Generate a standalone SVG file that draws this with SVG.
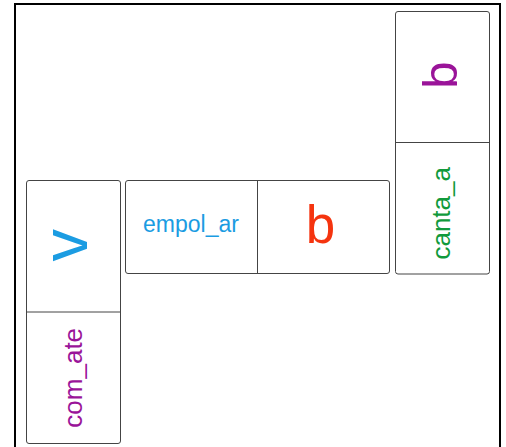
<svg xmlns="http://www.w3.org/2000/svg" width="506" height="447" viewBox="0 0 506 447">
<style>
.box{fill:#fff;stroke:#444;stroke-width:1}
.div{stroke:#444;stroke-width:1}
text{font-family:"Liberation Sans",Arial,sans-serif;text-anchor:middle}
.blue{fill:#1b9ce2}
.red{fill:#f5340f}
.purple{fill:#9a1499}
.green{fill:#119a3c}
</style>
<rect x="0" y="0" width="506" height="447" fill="#fff"/>
<rect x="15" y="4" width="485" height="460" fill="none" stroke="#000" stroke-width="2"/>
<g id="connectors"></g>
<g id="domino-left">
<rect class="box" x="26.5" y="180.5" width="94" height="263" rx="2.5"/>
<line class="div" x1="26.5" y1="312" x2="120.5" y2="312"/>
<text class="blue" font-size="65" transform="translate(86.7,245.3) rotate(-90)">v</text>
<text class="purple" font-size="26" transform="translate(81.7,377.8) rotate(-90)">com_ate</text>
</g>
<g id="domino-middle">
<rect class="box" x="125.5" y="180.5" width="264" height="93" rx="2.5"/>
<line class="div" x1="257.5" y1="180.5" x2="257.5" y2="273.5"/>
<text class="blue" font-size="23" x="191" y="232.3">empol_ar</text>
<text class="red" font-size="53" x="320.5" y="243.3">b</text>
</g>
<g id="domino-right">
<rect class="box" x="395.5" y="11.5" width="94" height="262.5" rx="2.5"/>
<line class="div" x1="395.5" y1="142.5" x2="489.5" y2="142.5"/>
<text class="purple" font-size="49" transform="translate(456.7,75) rotate(-90)">b</text>
<text class="green" font-size="26" transform="translate(450,213.3) rotate(-90)">canta_a</text>
</g>
</svg>
